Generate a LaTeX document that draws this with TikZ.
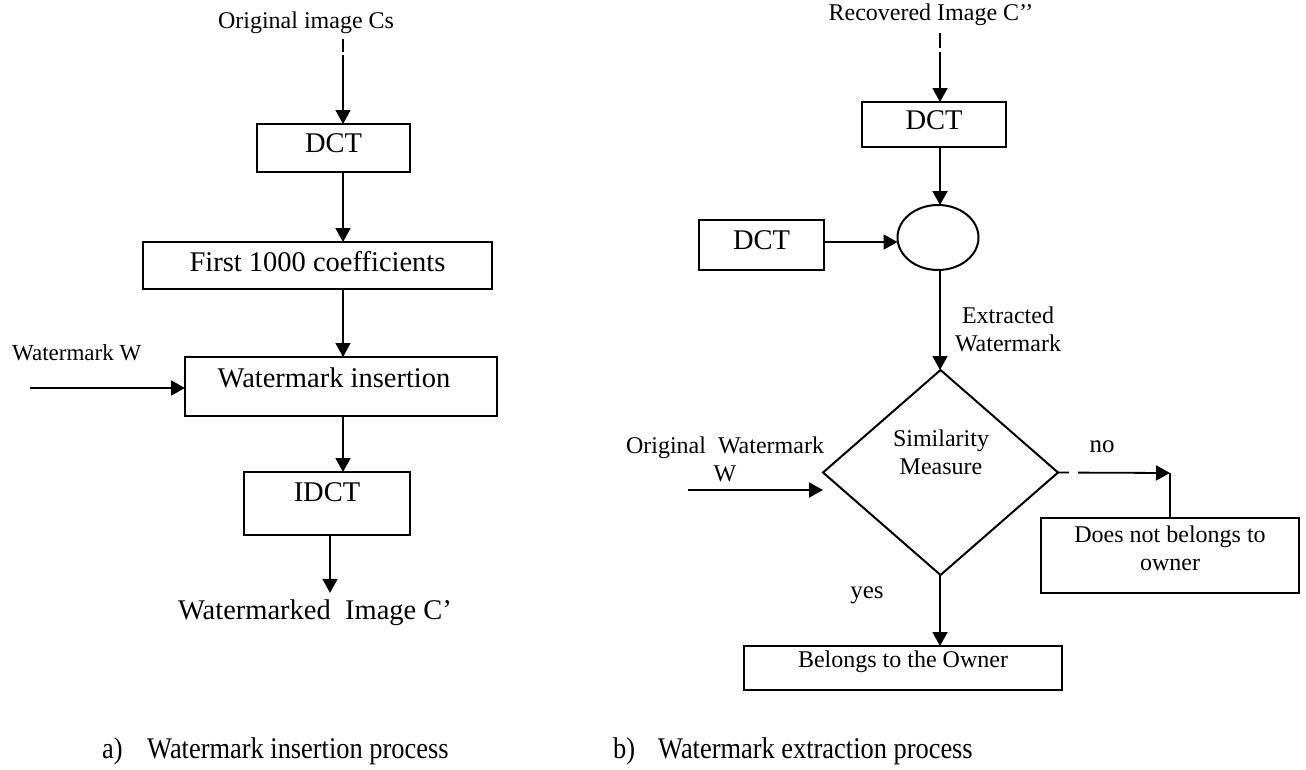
\documentclass[tikz,border=0pt]{standalone}
\usepackage{fontspec}
\setmainfont{Liberation Serif}
\newfontfamily\capfont[FakeStretch=0.88]{Liberation Serif}
\usetikzlibrary{arrows.meta,shapes.geometric,calc}
\begin{document}
\begin{tikzpicture}[x=1pt,y=-1pt,
  box/.style={draw, line width=2pt, inner sep=0pt, outer sep=0pt},
  big/.style={font=\fontsize{28.5pt}{34pt}\selectfont},
  sml/.style={font=\fontsize{24pt}{28pt}\selectfont, align=center},
  yn/.style={font=\fontsize{25pt}{28pt}\selectfont},
  capt/.style={font=\capfont\fontsize{30pt}{34pt}\selectfont, anchor=west, inner sep=0pt},
  arr/.style={line width=1.8pt, -{Triangle[length=14pt,width=15pt]}},
  ln/.style={line width=1.8pt}]
\useasboundingbox (0,0) rectangle (1306,769);

% ---------- left: insertion ----------
\node[sml] (cstext) at (306,23) {Original image Cs};
\coordinate (cs) at (343,39);
\coordinate (ax) at (343,0);
\coordinate (bx) at (330,0);
\node[box, minimum width=153pt, minimum height=48pt,
      label={[big,yshift=5pt]center:DCT}] (dct1) at (333.5,148) {};
\node[box, minimum width=349pt, minimum height=47pt,
      label={[big,yshift=3.5pt]center:First 1000 coefficients}] (first) at (317.5,265.5) {};
\node[box, minimum width=312pt, minimum height=59pt,
      label={[big,xshift=-7pt,yshift=8.5pt]center:Watermark insertion}] (wins) at (341,386.5) {};
\node[box, minimum width=166pt, minimum height=63pt,
      label={[big,yshift=11.5pt]center:IDCT}] (idct) at (327,503.5) {};
\node[big, inner sep=7pt] (out) at (315,613) {Watermarked\ \ Image C’};
\node[font=\fontsize{23pt}{28pt}\selectfont, anchor=west, inner sep=0pt] (wtext) at (12,353) {Watermark W};
\coordinate (wsrc) at (30,388);

\draw[arr, dash pattern=on 13pt off 3pt on 300pt] (cs) -- (dct1.north -| cs);
\draw[arr] (dct1.south -| ax) -- (first.north -| ax);
\draw[arr] (first.south -| ax) -- (wins.north -| ax);
\draw[arr] (wins.south -| ax) -- (idct.north -| ax);
\draw[arr] (idct.south -| bx) -- (out.north -| bx);
\draw[arr] (wsrc) -- (wins.west |- wsrc);

% ---------- right: extraction ----------
\node[sml] (rectext) at (931,15) {Recovered Image C’’};
\coordinate (rc) at (940,33);
\node[box, minimum width=144pt, minimum height=45pt,
      label={[big,yshift=4.5pt]center:DCT}] (dct2) at (934,124.5) {};
\node[draw, ellipse, line width=2pt, minimum width=81pt, minimum height=65pt,
      inner sep=0pt, outer sep=0pt] (ell) at (938,237.5) {};
\node[box, minimum width=125pt, minimum height=50pt,
      label={[big,yshift=5pt]center:DCT}] (dct3) at (761.5,245) {};
\coordinate (ey) at (0,242);
\node[draw, diamond, line width=2pt, minimum width=235pt, minimum height=205pt,
      inner sep=0pt, outer sep=0pt] (dia) at (940.5,472.5) {};
\node[sml] (extr) at (1008,329) {Extracted\\Watermark};
\node[sml] (simt) at (941,452) {Similarity\\Measure};
\node[sml] (origt) at (725,459) {Original\ \ Watermark\\W};
\coordinate (ow) at (688,490);
\coordinate (nc) at (1170,473);
\node[box, minimum width=258pt, minimum height=75pt,
      label={[sml,yshift=7pt]center:Does not belongs to\\owner}] (dont) at (1170,555.5) {};
\node[yn] (no) at (1102,447) {no};
\node[yn] (yes) at (867,595) {yes};
\node[box, minimum width=318pt, minimum height=44pt,
      label={[sml,yshift=6pt]center:Belongs to the Owner}] (bel) at (903,668) {};

\draw[arr, dash pattern=on 15pt off 4pt on 300pt] (rc) -- (dct2.north -| rc);
\draw[arr] (dct2.south -| rc) -- (ell.north -| rc);
\draw[arr] (dct3.east |- ey) -- (ell.west |- ey);
\draw[arr] (ell.south -| rc) -- (dia.north -| rc);
\draw[arr] (ow) -- (dia.west |- ow);
\draw[arr, dash pattern=on 11pt off 9pt on 300pt] (dia.east) -- (nc);
\draw[ln] (nc) -- (dont.north -| nc);
\draw[arr] (dia.south -| rc) -- (bel.north -| rc);

% ---------- captions ----------
\node[capt] (capa) at (102,751) {a)};
\node[capt] (capat) at (147,751) {Watermark insertion process};
\node[capt] (capb) at (613,751) {b)};
\node[capt] (capbt) at (658,751) {Watermark extraction process};
\end{tikzpicture}
\end{document}
